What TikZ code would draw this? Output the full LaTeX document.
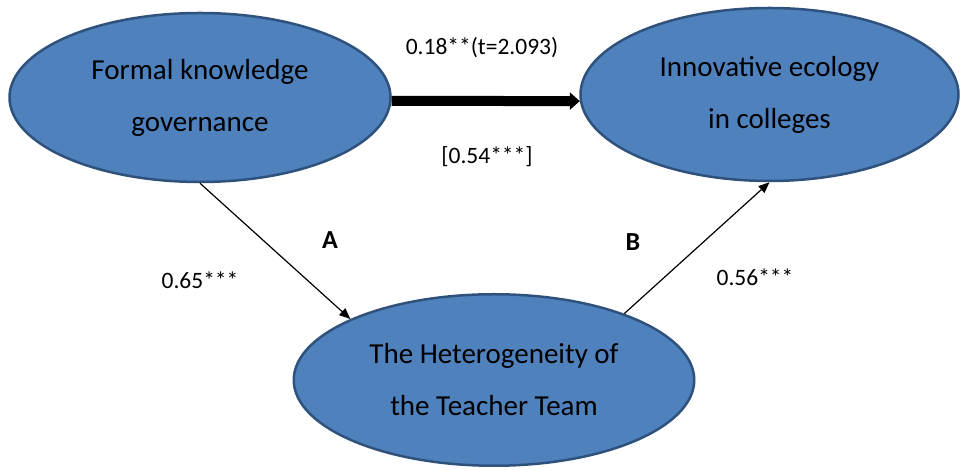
\documentclass[tikz,border=0pt]{standalone}
\usepackage{fontspec}
\setmainfont{Carlito}
\usetikzlibrary{shapes.geometric,arrows.meta}
\definecolor{ovalfill}{RGB}{79,129,189}
\definecolor{ovaldraw}{RGB}{47,82,125}
\tikzset{
  oval/.style={ellipse, draw=ovaldraw, fill=ovalfill, line width=2.5pt, inner sep=0pt, align=center, font=\fontsize{29}{52}\selectfont},
  lbl/.style={font=\fontsize{23.5}{28}\selectfont},
  path/.style={line width=1.2pt, -{Triangle[length=11pt,width=9pt]}}
}
\begin{document}
\begin{tikzpicture}[x=1pt, y=1pt, line join=round]
  \useasboundingbox (0,0) rectangle (962,470);
  \node[oval, minimum width=381pt, minimum height=169pt] (fkg) at (200,372.5) {Formal knowledge\\governance};
  \node[oval, minimum width=378pt, minimum height=173pt] (ice) at (769.5,375.5) {Innovative ecology\\in colleges};
  \node[oval, minimum width=400.5pt, minimum height=171.5pt] (het) at (494,90) {The Heterogeneity of\\the Teacher Team};
  \draw[line width=10pt, -{Triangle[length=10pt,width=17pt]}] (fkg.-1.5) -- (ice.182.3);
  \draw[path] (fkg.south) -- (het.157);
  \draw[path] (het.27) -- (ice.south);
  \node[lbl] (tdirect) at (482,422) {0.18**(t=2.093)};
  \node[lbl] (ttotal) at (487,313) {[0.54***]};
  \node[lbl] (ta) at (200,190) {0.65***};
  \node[lbl] (tb) at (755,193) {0.56***};
  \node[font=\fontsize{26}{30}\selectfont\bfseries] (pa) at (330,230) {A};
  \node[font=\fontsize{26}{30}\selectfont\bfseries] (pb) at (633,228) {B};
\end{tikzpicture}
\end{document}
